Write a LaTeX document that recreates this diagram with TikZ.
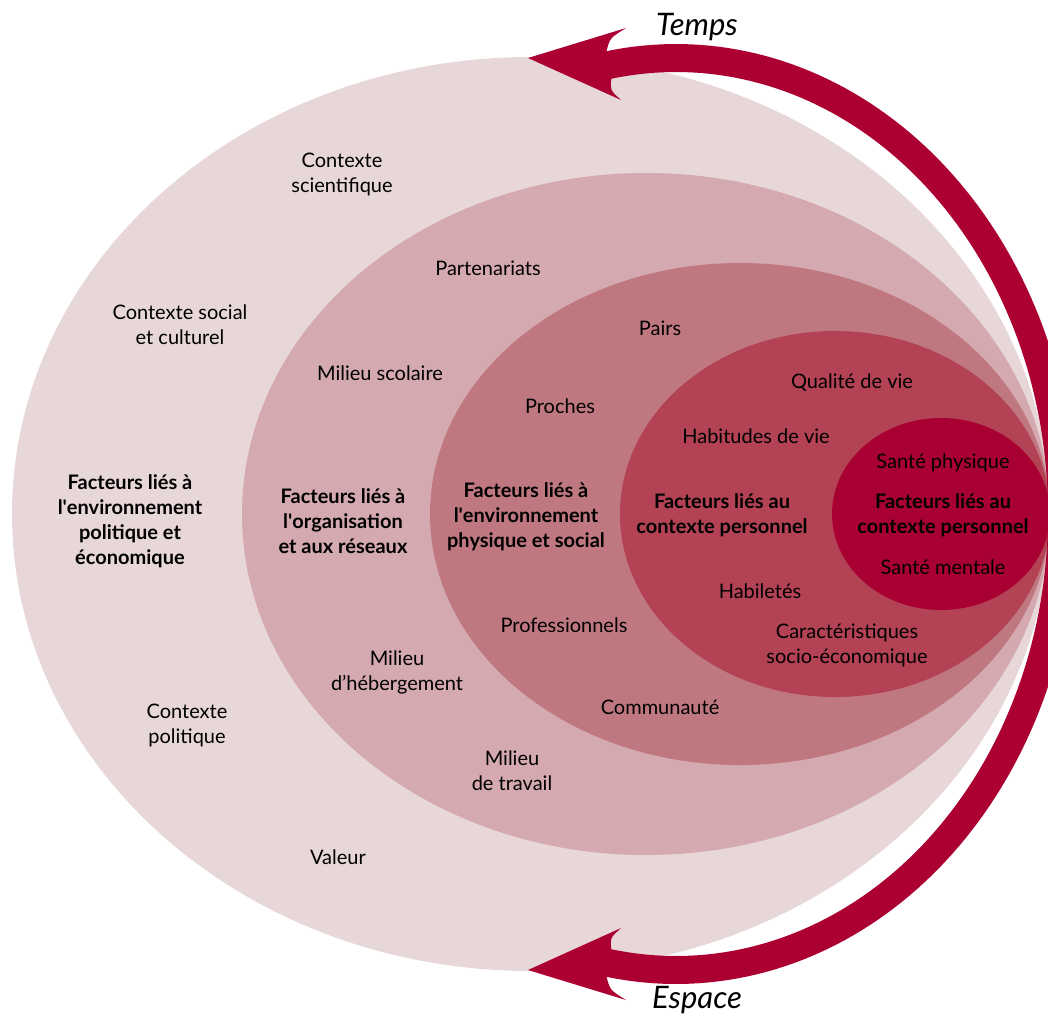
\documentclass[tikz,border=0pt]{standalone}
\usepackage{fontspec}
\setmainfont{Lato}
\definecolor{cA}{HTML}{E8D7D8}
\definecolor{cB}{HTML}{D4A9AF}
\definecolor{cC}{HTML}{C07880}
\definecolor{cD}{HTML}{B24254}
\definecolor{cE}{HTML}{A90033}
\definecolor{arrowred}{HTML}{AC0032}
\begin{document}
\begin{tikzpicture}[x=1pt,y=-1pt,
  lbl/.style={font=\fontsize{20}{25}\selectfont, align=center, inner sep=0pt, text=black},
  blbl/.style={lbl, font=\fontsize{20}{25}\selectfont\bfseries},
  tlbl/.style={font=\fontsize{31}{32}\selectfont\itshape, inner sep=0pt, text=black}]
\useasboundingbox (0,0) rectangle (1048,1017);
% nested ellipses
\fill[cA] (531,514) ellipse [x radius=519, y radius=457];
\fill[cB] (646,514) ellipse [x radius=404, y radius=341];
\fill[cC] (740,514) ellipse [x radius=310, y radius=251];
\fill[cD] (835,514) ellipse [x radius=215, y radius=183];
\fill[cE] (941,514) ellipse [x radius=109, y radius=96];
% double arrow band
\fill[arrowred] (606.5,51)
  -- plot[domain=-100:100, samples=150] ({676+400*cos(\x)},{514+470*sin(\x)})
  .. controls (610,990) .. (626,1000)
  -- (528,970) -- (621,928)
  .. controls (610,938) .. (611.4,949.3)
  -- plot[domain=100:-100, samples=150] ({676+372*cos(\x)},{514+442*sin(\x)})
  .. controls (610,90) .. (621,100)
  -- (528,58) -- (626,28)
  .. controls (610,38) .. (606.5,51) -- cycle;
\node[tlbl] (temps) at (697,27) {Temps};
\node[tlbl] (espace) at (697,1000) {Espace};
% outer ring
\node[lbl] (scient) at (342,174) {Contexte\\scientifique};
\node[lbl] (social) at (180,325) {Contexte social\\et culturel};
\node[blbl] (fpol) at (130,521) {Facteurs liés à\\l\textquotesingle environnement\\politique et\\économique};
\node[lbl] (polit) at (187,725) {Contexte\\politique};
\node[lbl] (valeur) at (338,857) {Valeur};
% second ring
\node[lbl] (parten) at (488,268) {Partenariats};
\node[lbl] (scol) at (380,373) {Milieu scolaire};
\node[blbl] (forg) at (343,521) {Facteurs liés à\\l\textquotesingle organisation\\et aux réseaux};
\node[lbl] (heberg) at (397,672) {Milieu\\d’hébergement};
\node[lbl] (travail) at (512,771) {Milieu\\de travail};
% third ring
\node[lbl] (pairs) at (660,328) {Pairs};
\node[lbl] (proches) at (560,406) {Proches};
\node[blbl] (fphys) at (526,517) {Facteurs liés à\\l\textquotesingle environnement\\physique et social};
\node[lbl] (prof) at (564,625) {Professionnels};
\node[lbl] (commu) at (660,707) {Communauté};
% fourth ring
\node[lbl] (qualite) at (852,383) {Qualité de vie};
\node[lbl] (habit) at (756,436) {Habitudes de vie};
\node[blbl] (fpers) at (722,515) {Facteurs liés au\\contexte personnel};
\node[lbl] (habil) at (760,591) {Habiletés};
\node[lbl] (caract) at (847,645) {Caractéristiques\\socio-économique};
% inner
\node[lbl] (sphys) at (943,463) {Santé physique};
\node[blbl] (fpers2) at (943,515) {Facteurs liés au\\contexte personnel};
\node[lbl] (sment) at (943,567) {Santé mentale};
\end{tikzpicture}
\end{document}
